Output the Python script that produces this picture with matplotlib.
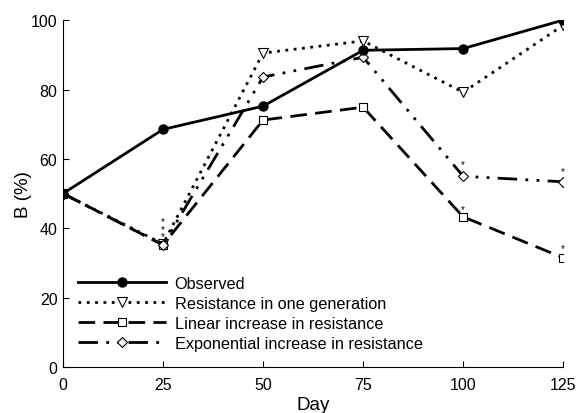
import matplotlib.pyplot as plt
import numpy as np

plt.rcParams['font.family'] = ['Liberation Sans', 'DejaVu Sans']

days = [0, 25, 50, 75, 100, 125]
observed = [50, 68.5, 75.2, 91.3, 91.8, 100]
one_gen = [50, 35.5, 90.5, 94.0, 79.2, 98.5]
linear = [50, 35.2, 71.2, 74.9, 43.3, 31.5]
exponential = [50, 35.2, 83.6, 89.3, 55.0, 53.4]

# significance stars: (day, y, how many stacked)
star_x = [25, 100, 100, 125, 125]
star_y = [39.9, 45.6, 58.4, 34.2, 56.4]
star_n = [3, 1, 1, 1, 1]

fig = plt.figure(figsize=(5.83, 4.14), dpi=100)
ax = fig.add_axes([0.108, 0.111, 0.858, 0.838])

ax.plot(days, observed, color="black", linewidth=2, marker="o", markersize=6.5,
        label="Observed", zorder=5)
ax.plot(days, one_gen, color="black", linewidth=2, linestyle=(0, (1, 2)), marker="v",
        markersize=6.5, markerfacecolor="white", markeredgewidth=0.8,
        label="Resistance in one generation")
ax.plot(days, linear, color="black", linewidth=2, linestyle=(0, (6, 3)), marker="s",
        markersize=6, markerfacecolor="white", markeredgewidth=0.8,
        label="Linear increase in resistance")
ax.plot(days, exponential, color="black", linewidth=2,
        linestyle=(0, (7, 3, 1, 3, 1, 3)), marker="D", markersize=5.5,
        markerfacecolor="white", markeredgewidth=0.8,
        label="Exponential increase in resistance")

for x, y, n in zip(star_x, star_y, star_n):
    ax.text(x, y, "\n".join(["*"] * n), ha="center", va="center", fontsize=7,
            linespacing=0.7)

ax.set_xlim(0, 125)
ax.set_ylim(0, 100)
ax.set_xticks(days)
ax.set_yticks([0, 20, 40, 60, 80, 100])
ax.tick_params(axis="both", direction="in", length=4, width=0.8, labelsize=11.5)
ax.tick_params(axis="x", pad=7)
ax.tick_params(axis="y", pad=4)
ax.spines["top"].set_visible(False)
ax.spines["right"].set_visible(False)
ax.set_xlabel("Day", fontsize=13.5, labelpad=3)
ax.set_ylabel("B (%)", fontsize=13.5, labelpad=-1)

ax.legend(loc="lower left", frameon=False, fontsize=11.7, handlelength=5.4,
          handletextpad=0.55, labelspacing=0.32, borderaxespad=0.0,
          bbox_to_anchor=(0.017, 0.027))

fig.savefig("out.png", dpi=100)
